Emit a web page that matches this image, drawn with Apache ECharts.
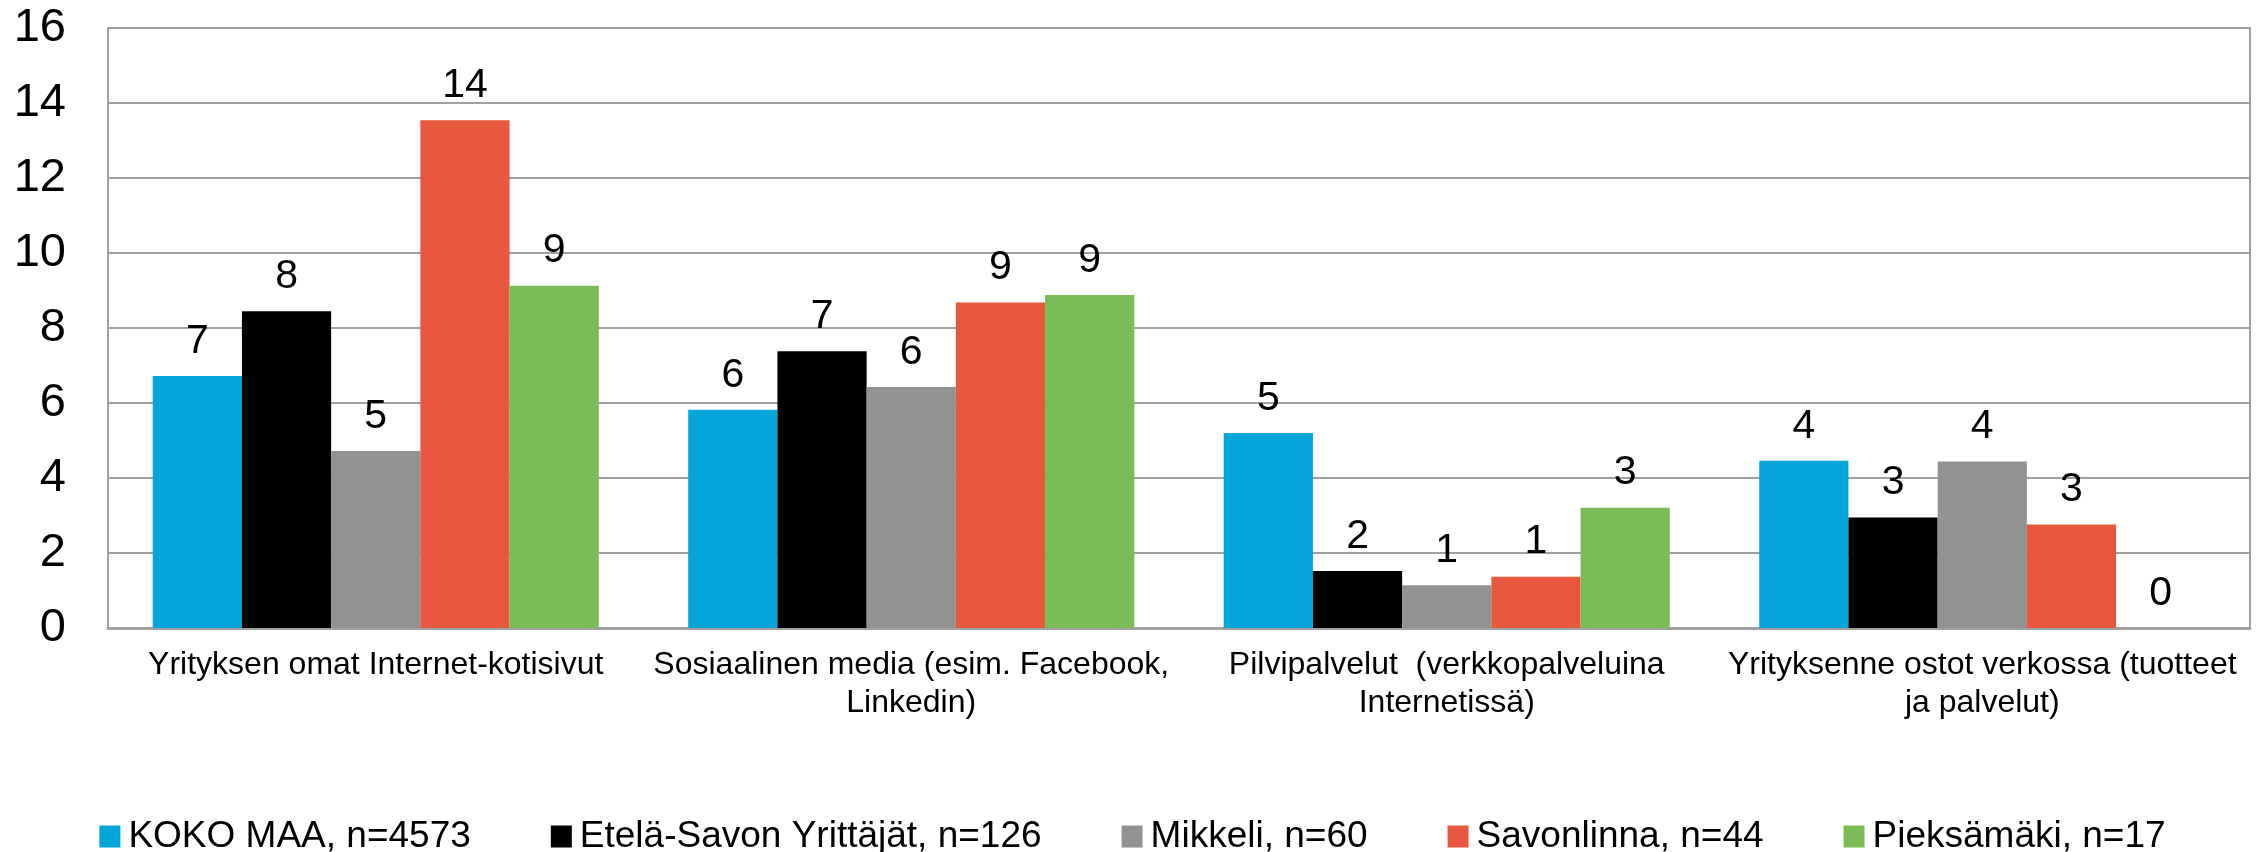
<!DOCTYPE html>
<html>
<head>
<meta charset="utf-8">
<title>Verkkopalvelut</title>
<script src="https://cdn.jsdelivr.net/npm/echarts@6/dist/echarts.min.js"></script>
<style>
  html, body { margin: 0; padding: 0; background: #fff; }
  #chart { width: 2265px; height: 852px; }
</style>
</head>
<body>
<div id="chart"></div>
<script>
// kategoriat (rivinvaihdot kuten kuvassa)
const categories = [
  'Yrityksen omat Internet-kotisivut',
  'Sosiaalinen media (esim. Facebook,\nLinkedin)',
  'Pilvipalvelut  (verkkopalveluina\nInternetissä)',
  'Yrityksenne ostot verkossa (tuotteet\nja palvelut)'
];

const seriesNames = [
  'KOKO MAA, n=4573',
  'Etelä-Savon Yrittäjät, n=126',
  'Mikkeli, n=60',
  'Savonlinna, n=44',
  'Pieksämäki, n=17'
];

// arvot luettu kuvasta
const kokoMaa = [6.72, 5.82, 5.2, 4.46];
const etelaSavo = [8.45, 7.38, 1.52, 2.95];
const mikkeli = [4.72, 6.43, 1.14, 4.44];
const savonlinna = [13.54, 8.68, 1.37, 2.76];
const pieksamaki = [9.13, 8.88, 3.21, 0];

const yTicks = { min: 0, max: 16, interval: 2 };

const colors = ['#03A5DA', '#000000', '#929292', '#E8583F', '#79BC56'];
const values = [kokoMaa, etelaSavo, mikkeli, savonlinna, pieksamaki];

const font = '"Liberation Sans", Arial, sans-serif';
const gridColor = '#a0a0a0';

let chart = echarts.init(document.getElementById('chart'));

let option = {
  backgroundColor: '#fff',
  animation: false,
  color: colors,
  textStyle: { fontFamily: font, color: '#000' },
  grid: {
    left: 108,
    right: 15,
    top: 28,
    bottom: 224,
    show: true,
    borderColor: gridColor,
    borderWidth: 2
  },
  legend: {
    top: 813,
    left: 'center',
    itemGap: 80,
    itemWidth: 21,
    itemHeight: 22,
    icon: 'rect',
    textStyle: { fontSize: 37, color: '#000', fontFamily: font, padding: [0, 0, 0, 3] },
    data: seriesNames
  },
  xAxis: {
    type: 'category',
    data: categories,
    axisTick: { show: false },
    axisLine: { lineStyle: { color: gridColor, width: 3 } },
    axisLabel: {
      interval: 0,
      margin: 18,
      fontSize: 32,
      lineHeight: 38,
      color: '#000',
      fontFamily: font
    }
  },
  yAxis: {
    type: 'value',
    min: yTicks.min,
    max: yTicks.max,
    interval: yTicks.interval,
    axisLine: { show: true, lineStyle: { color: gridColor, width: 2 } },
    axisTick: { show: false },
    splitLine: { lineStyle: { color: gridColor, width: 2 } },
    axisLabel: { fontSize: 47, margin: 42, color: '#000', fontFamily: font }
  },
  series: seriesNames.map((name, i) => ({
    name: name,
    type: 'bar',
    data: values[i],
    barGap: 0,
    barCategoryGap: '16.7%',
    label: {
      show: true,
      position: 'top',
      distance: 14,
      fontSize: 41,
      color: '#000',
      fontFamily: font,
      formatter: (p) => Math.round(p.value)
    }
  }))
};

chart.setOption(option);
</script>
</body>
</html>
